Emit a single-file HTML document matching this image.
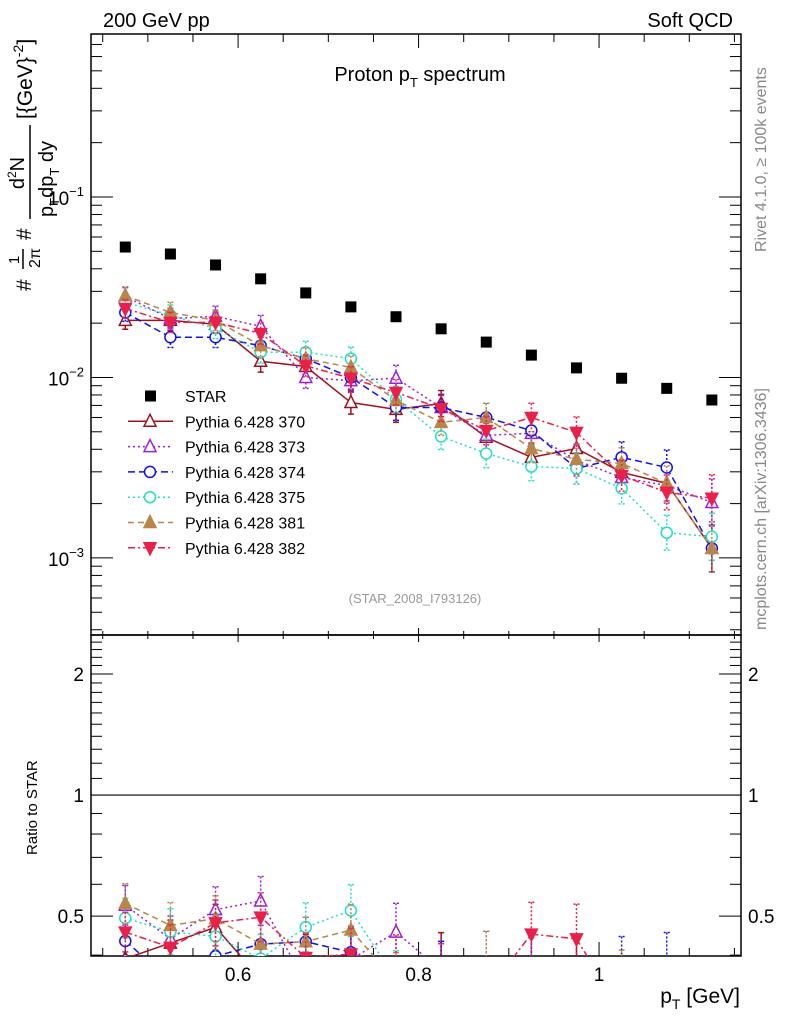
<!DOCTYPE html>
<html><head><meta charset="utf-8"><style>
html,body{margin:0;background:#fff;overflow:hidden;width:786px;height:1024px}
svg{display:block;font-family:"Liberation Sans",sans-serif}
</style></head><body>
<svg id="c" width="786" height="1024" viewBox="0 0 786 1024" xmlns="http://www.w3.org/2000/svg">
<text x="103" y="27" font-size="20">200 GeV pp</text>
<text x="733" y="27" font-size="20" text-anchor="end">Soft QCD</text>
<text x="420" y="81" font-size="20" text-anchor="middle">Proton p<tspan font-size="13" dy="6">T</tspan><tspan dy="-6"> spectrum</tspan></text>
<text transform="translate(766,252) rotate(-90)" font-size="16" fill="#888">Rivet 4.1.0, ≥ 100k events</text>
<text transform="translate(766,630) rotate(-90)" font-size="16" fill="#888">mcplots.cern.ch [arXiv:1306.3436]</text>
<text x="415" y="603" font-size="13" fill="#999" text-anchor="middle">(STAR_2008_I793126)</text>
<g transform="translate(0,291) rotate(-90)">
<text x="0" y="31" font-size="21">#</text>
<text x="31" y="19" font-size="15" text-anchor="middle">1</text>
<line x1="22" y1="23" x2="42" y2="23" stroke="#000" stroke-width="1.5"/>
<text x="33" y="40" font-size="16" text-anchor="middle">2π</text>
<text x="51" y="31" font-size="21">#</text>
<text x="118" y="24" font-size="20" text-anchor="middle">d<tspan font-size="12" dy="-8">2</tspan><tspan dy="8">N</tspan></text>
<line x1="72" y1="30" x2="166" y2="30" stroke="#000" stroke-width="1.5"/>
<text x="74" y="53" font-size="20">p<tspan font-size="13" dy="6">T</tspan><tspan dy="-6">dp</tspan><tspan font-size="13" dy="6">T</tspan><tspan dy="-6"> dy</tspan></text>
<text x="172" y="32" font-size="21">[{GeV}<tspan font-size="14" dy="-9">-2</tspan><tspan dy="9">]</tspan></text>
</g>
<text transform="translate(37,855) rotate(-90)" font-size="15">Ratio to STAR</text>
<text x="740" y="1003" font-size="21" text-anchor="end">p<tspan font-size="14" dy="6">T</tspan><tspan dy="-6"> [GeV]</tspan></text>
<g id="g"></g>
</svg>
<script>
const xs=[0.475,0.525,0.575,0.625,0.675,0.725,0.775,0.825,0.875,0.925,0.975,1.025,1.075,1.125];
const star=[0.0528,0.0483,0.042,0.0352,0.0294,0.0246,0.0217,0.0186,0.0157,0.0133,0.0113,0.0099,0.0087,0.0075];
const s370=[0.0207,0.0207,0.0197,0.0123,0.0115,0.00726,0.00665,0.00717,0.00466,0.00361,0.00404,0.00298,0.00259,0.00113];
const s373=[0.0281,0.0212,0.0218,0.0192,0.0100,0.0096,0.0099,0.00682,0.00478,0.00490,0.00347,0.00279,0.00252,0.00203];
const s374=[0.0229,0.0167,0.0167,0.0150,0.0127,0.0100,0.00682,0.00682,0.0060,0.00508,0.00313,0.00361,0.00317,0.00113];
const s375=[0.0261,0.0221,0.0187,0.0138,0.0138,0.0127,0.00755,0.00471,0.00379,0.00321,0.00313,0.00243,0.00138,0.00131];
const s381=[0.0284,0.0229,0.0207,0.0150,0.0127,0.01136,0.00746,0.00564,0.0060,0.00404,0.00352,0.00334,0.00259,0.00113];
const s382=[0.0241,0.0202,0.0202,0.0175,0.0116,0.0099,0.00826,0.00673,0.00508,0.0060,0.00496,0.00286,0.00231,0.00214];
const relErr=[0.12,0.14,0.14,0.15,0.15,0.16,0.18,0.18,0.2,0.2,0.22,0.22,0.25,0.35];
const xTicks=[0.6,0.8,1];
const yTicks=[0.001,0.01,0.1];
const rTicks=[0.5,1,2];
const series=[
 {name:'Pythia 6.428 370',v:s370,c:'#a01020',dash:'',m:'tri',fill:false},
 {name:'Pythia 6.428 373',v:s373,c:'#9a1ee0',dash:'2,3',m:'tri',fill:false},
 {name:'Pythia 6.428 374',v:s374,c:'#1010ee',dash:'7,4',m:'circ',fill:false},
 {name:'Pythia 6.428 375',v:s375,c:'#20e0c8',dash:'2,3',m:'circ',fill:false},
 {name:'Pythia 6.428 381',v:s381,c:'#b8864a',dash:'6,4',m:'tri',fill:true},
 {name:'Pythia 6.428 382',v:s382,c:'#e8204a',dash:'7,3,2,3',m:'tridown',fill:true}];
const L=91,R=741,T=34,M=635,B=956;
const X=v=>L+(v-0.4370)/(1.1573-0.4370)*(R-L);
const lyMin=-3.427,lyMax=-0.097;
const Y=v=>M-(Math.log10(v)-lyMin)/(lyMax-lyMin)*(M-T);
const rMin=Math.log10(0.398),rMax=Math.log10(2.5);
const RY=v=>B-(Math.log10(v)-rMin)/(rMax-rMin)*(B-M);
const NS='http://www.w3.org/2000/svg',g=document.getElementById('g');
function el(t,a,p){const e=document.createElementNS(NS,t);for(const k in a)e.setAttribute(k,a[k]);(p||g).appendChild(e);return e;}
const defs=el('defs',{});
const c1=el('clipPath',{id:'ct'},defs);el('rect',{x:L,y:T,width:R-L,height:M-T},c1);
const c2=el('clipPath',{id:'cb'},defs);el('rect',{x:L,y:M,width:R-L,height:B-M},c2);
let f=el('rect',{x:L,y:T,width:R-L,height:M-T,fill:'none',stroke:'#000','stroke-width':1.5});

f=el('rect',{x:L,y:M,width:R-L,height:B-M,fill:'none',stroke:'#000','stroke-width':1.5});

for(let i=0;i<=16;i++){const v=0.45+i*0.05;if(v>1.157)break;const x=X(v);const maj=xTicks.some(t=>Math.abs(t-v)<1e-6);const len=maj?14:8;
 for(const yy of [T,M,B]){let l;
  if(yy===M){l=el('line',{x1:x,y1:M-len/2,x2:x,y2:M+len/2,stroke:'#000'});}
  else if(yy===T){l=el('line',{x1:x,y1:T,x2:x,y2:T+len,stroke:'#000'});}
  else{l=el('line',{x1:x,y1:B,x2:x,y2:B-len,stroke:'#000'});}
  }
}
xTicks.forEach(v=>{const t=el('text',{x:X(v),y:981,'font-size':19,'text-anchor':'middle'});t.textContent=String(v);
 });
for(let d=-4;d<=0;d++)for(let k=1;k<10;k++){const v=k*Math.pow(10,d);const y=Y(v);if(y<T||y>M)continue;const len=k===1?22:11;
 let l=el('line',{x1:L,y1:y,x2:L+len,y2:y,stroke:'#000'});
 l=el('line',{x1:R,y1:y,x2:R-len,y2:y,stroke:'#000'});}
yTicks.forEach(v=>{const t=el('text',{x:84,y:Y(v)+8,'font-size':19,'text-anchor':'end'});const e=Math.round(Math.log10(v));
 t.innerHTML='10<tspan font-size="13" dy="-9">'+(e===0?'0':'−'+(-e))+'</tspan>';
 });
[0.4,0.5,0.6,0.7,0.8,0.9,1,2].forEach(v=>{const y=RY(v);const maj=rTicks.includes(v);const len=maj?22:11;
 let l=el('line',{x1:L,y1:y,x2:L+len,y2:y,stroke:'#000'});
 l=el('line',{x1:R,y1:y,x2:R-len,y2:y,stroke:'#000'});});
for(let v=1.1;v<2.5;v+=0.1){if(Math.abs(v-2)<1e-6)continue;const y=RY(v);if(y<M)continue;
 let l=el('line',{x1:L,y1:y,x2:L+11,y2:y,stroke:'#000'});
 l=el('line',{x1:R,y1:y,x2:R-11,y2:y,stroke:'#000'});}
rTicks.forEach(v=>{for(const [x,a] of [[84,'end'],[748,'start']]){const t=el('text',{x:x,y:RY(v)+7,'font-size':19,'text-anchor':a});t.textContent=String(v);
 }});
let ref=el('line',{x1:L,y1:RY(1),x2:R,y2:RY(1),stroke:'#000','stroke-width':1.2});

function marker(p,x,y,s){const r=6;let e;
 if(s.m==='circ')e=el('circle',{cx:x,cy:y,r:5.5,fill:'#fff',stroke:s.c,'stroke-width':1.5},p);
 else if(s.m==='tri')e=el('polygon',{points:`${x},${y-r-1} ${x-r},${y+r-1} ${x+r},${y+r-1}`,fill:s.fill?s.c:'#fff',stroke:s.c,'stroke-width':1.5},p);
 else e=el('polygon',{points:`${x},${y+r+1} ${x-r},${y-r+1} ${x+r},${y-r+1}`,fill:s.c,stroke:s.c,'stroke-width':1.5},p);
 return e;}
const gt=el('g',{'clip-path':'url(#ct)'});
const gb=el('g',{'clip-path':'url(#cb)'});
series.forEach((s,si)=>{
 for(const [p,fy,vals] of [[gt,Y,s.v],[gb,RY,s.v.map((v,i)=>v/star[i])]]){
  const pts=vals.map((v,i)=>X(xs[i])+','+fy(v)).join(' ');
  const pl=el('polyline',{points:pts,fill:'none',stroke:s.c,'stroke-width':1.5,'stroke-dasharray':s.dash},p);
  
  vals.forEach((v,i)=>{const x=X(xs[i]);const y1=fy(v*(1+relErr[i])),y2=fy(v/(1+relErr[i]));
   const eb=el('path',{d:`M${x},${y1}V${y2}M${x-3},${y1}H${x+3}M${x-3},${y2}H${x+3}`,stroke:s.c,'stroke-width':1.5,'stroke-dasharray':s.dash?'2,2':'',fill:'none'},p);
   
   const mk=marker(p,x,fy(v),s);});
 }});
star.forEach((v,i)=>{const r=el('rect',{x:X(xs[i])-5.5,y:Y(v)-5.5,width:11,height:11,fill:'#000'},gt);
 });
const ly0=396,dy=25.3;
let lr=el('rect',{x:145,y:ly0-5.5,width:11,height:11,fill:'#000'});
let lt=el('text',{x:185,y:ly0+6,'font-size':16});lt.textContent='STAR';
series.forEach((s,i)=>{const y=ly0+dy*(i+1);
 const ll=el('line',{x1:128,y1:y,x2:173,y2:y,stroke:s.c,'stroke-width':1.5,'stroke-dasharray':s.dash});
 const mk=marker(g,150,y,s);
 const t=el('text',{x:185,y:y+6,'font-size':16});t.textContent=s.name;});
</script>
</body></html>
